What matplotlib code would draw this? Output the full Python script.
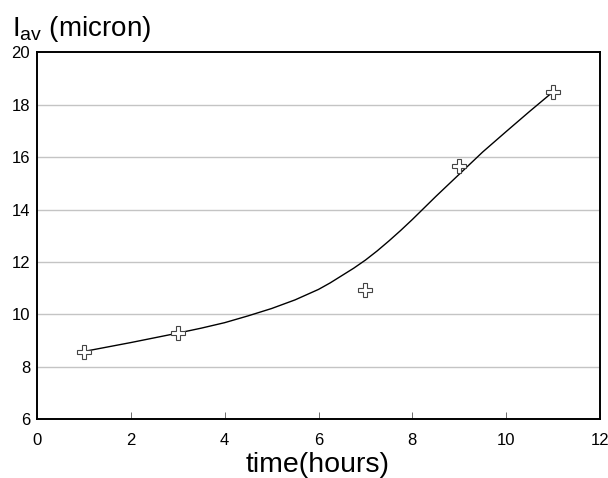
import matplotlib
matplotlib.use("Agg")
import matplotlib.pyplot as plt

# measured data points
time_h = [1, 3, 7, 9, 11]
l_av = [8.57, 9.28, 10.94, 15.67, 18.5]

# smooth fitted curve
curve_t = [1.0, 1.5, 2.0, 2.5, 3.0, 3.5, 4.0, 4.5, 5.0, 5.5, 6.0, 6.25, 6.5,
           6.75, 7.0, 7.25, 7.5, 7.75, 8.0, 8.5, 9.0, 9.5, 10.0, 10.5, 11.0]
curve_l = [8.58, 8.75, 8.92, 9.10, 9.28, 9.47, 9.68, 9.94, 10.22, 10.55,
           10.95, 11.20, 11.48, 11.76, 12.07, 12.42, 12.80, 13.20, 13.62,
           14.50, 15.35, 16.20, 16.98, 17.75, 18.50]

x_ticks = [0, 2, 4, 6, 8, 10, 12]
y_ticks = [6, 8, 10, 12, 14, 16, 18, 20]

plt.rcParams['font.family'] = ['Liberation Sans', 'DejaVu Sans']

fig = plt.figure(figsize=(6.08, 4.78), dpi=100)
ax = fig.add_axes([37/608, 1-419/478, (600-37)/608, (419-52.5)/478])

ax.set_xlim(0, 12)
ax.set_ylim(6, 20)
ax.set_xticks(x_ticks)
ax.set_yticks(y_ticks)
ax.set_xticklabels([str(v) for v in x_ticks], fontsize=12)
ax.set_yticklabels([str(v) for v in y_ticks], fontsize=12)
ax.tick_params(axis='x', direction='in', length=5, width=0.6, pad=10, colors='#555555', labelcolor='black')
ax.tick_params(axis='y', length=0, pad=5)

for y in y_ticks[1:-1]:
    ax.axhline(y, color='#c4c4c4', lw=1.0, zorder=0)

for s in ax.spines.values():
    s.set_linewidth(1.4)
    s.set_color('black')

ax.plot(curve_t, curve_l, color='black', lw=1.0, zorder=2)
ax.plot(time_h, l_av, linestyle='none', marker='P', markersize=10,
        markerfacecolor='white', markeredgecolor='#444444', markeredgewidth=0.8, zorder=3)

fig.text(318/608, 1-472/478, 'time(hours)', fontsize=20.5, ha='center', va='baseline')
fig.text(12/608, 1-36/478, r'$\mathregular{I_{av}}$ (micron)', fontsize=20, ha='left', va='baseline')

fig.savefig('out.png', dpi=100)
